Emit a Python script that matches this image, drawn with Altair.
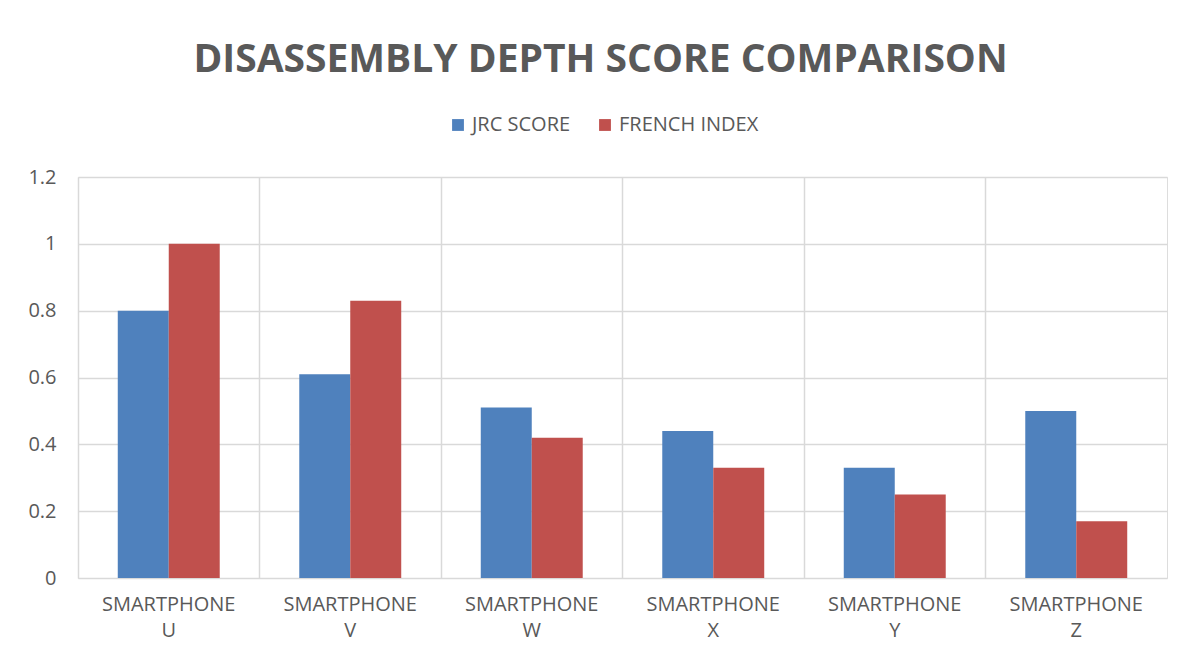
import altair as alt
import pandas as pd

categories = ["SMARTPHONE U", "SMARTPHONE V", "SMARTPHONE W", "SMARTPHONE X", "SMARTPHONE Y", "SMARTPHONE Z"]
jrc_score = [0.80, 0.61, 0.51, 0.44, 0.33, 0.50]
french_index = [1.00, 0.83, 0.42, 0.33, 0.25, 0.17]
series = ["JRC SCORE", "FRENCH INDEX"]
colors = ["#4f81bd", "#c0504d"]
y_ticks = [0, 0.2, 0.4, 0.6, 0.8, 1.0, 1.2]

rows = []
for c, a, b in zip(categories, jrc_score, french_index):
    rows.append({"cat": c, "series": series[0], "value": a})
    rows.append({"cat": c, "series": series[1], "value": b})
df = pd.DataFrame(rows)

FONT = "Open Sans"
GRID = "#d9d9d9"
TXT = "#595959"

chart = alt.Chart(df).mark_bar().encode(
    x=alt.X("cat:N", sort=categories, title=None,
            scale=alt.Scale(paddingInner=0, paddingOuter=0),
            axis=alt.Axis(labelAngle=0, labelExpr="split(datum.label, ' ')",
                          labelFont=FONT, labelFontSize=20, labelColor=TXT,
                          labelLineHeight=26, labelPadding=16, ticks=False, domain=False,
                          grid=True, gridColor=GRID, gridWidth=1.5, bandPosition=0,
                          labelBaseline="top")),
    xOffset=alt.XOffset("series:N", sort=series,
                        scale=alt.Scale(paddingOuter=0.78, paddingInner=0)),
    y=alt.Y("value:Q", title=None,
            scale=alt.Scale(domain=[0, 1.2], nice=False),
            axis=alt.Axis(values=y_ticks, format=".1~f", labelFont=FONT, labelFontSize=20,
                          labelColor=TXT, ticks=False, domain=False, labelPadding=22,
                          grid=True, gridColor=GRID, gridWidth=1.5)),
    color=alt.Color("series:N", sort=series,
                    scale=alt.Scale(domain=series, range=colors),
                    legend=alt.Legend(title=None, orient="none", direction="horizontal",
                                      legendX=370, legendY=-62,
                                      symbolType="square", symbolSize=140,
                                      symbolStrokeWidth=0, labelFont=FONT,
                                      labelFontSize=20, labelColor=TXT,
                                      columnPadding=24, labelOffset=4)),
).properties(
    width=1089,
    height=401,
    title=alt.TitleParams("DISASSEMBLY DEPTH SCORE COMPARISON", font=FONT, fontSize=39,
                          fontWeight="bold", color=TXT, anchor="middle", offset=35, dx=-22),
    autosize=alt.AutoSizeParams(type="none"),
    padding={"left": 70, "top": 169, "right": 15, "bottom": 70},
).configure_view(stroke=GRID, strokeWidth=1.5).configure(background="white")

chart.save("out.html", embed_options={"renderer": "svg", "actions": False})
